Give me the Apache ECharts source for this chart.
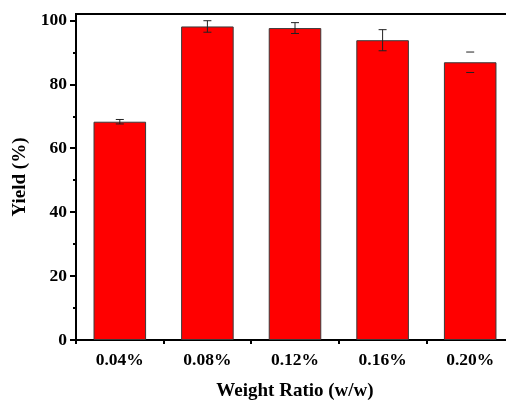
<!DOCTYPE html>
<html>
<head>
<meta charset="utf-8">
<script src="https://cdn.jsdelivr.net/npm/echarts@6/dist/echarts.min.js"></script>
<style>
  html, body { margin: 0; padding: 0; background: #fff; }
  #chart { width: 506px; height: 401px; }
</style>
</head>
<body>
<div id="chart"></div>
<script>
// weight ratio categories and measured yield (%)
var categories = ['0.04%', '0.08%', '0.12%', '0.16%', '0.20%']
var yieldValues = [68.3, 98.1, 97.6, 93.8, 86.9]
var yieldErrors = [0.7, 1.8, 1.7, 3.3, 3.2]
var stemVisible = [true, true, true, true, false]
var majorTicks = [0, 20, 40, 60, 80, 100]
var minorTicks = [10, 30, 50, 70, 90]

var fontFamily = '"Liberation Serif", "Times New Roman", serif'

var errorData = categories.map(function (c, i) {
  return [i, yieldValues[i] - yieldErrors[i], yieldValues[i] + yieldErrors[i], stemVisible[i] ? 1 : 0]
})

var chart = echarts.init(document.getElementById('chart'), null, { renderer: 'canvas' })

var option = {
  animation: false,
  backgroundColor: '#fff',
  grid: {
    left: 76,
    top: 14,
    right: -8,
    bottom: 61,
    outerBoundsMode: 'none',
    show: true,
    borderColor: '#000',
    borderWidth: 2,
    backgroundColor: 'transparent'
  },
  xAxis: [
    {
      type: 'category',
      data: categories,
      position: 'bottom',
      name: 'Weight Ratio (w/w)',
      nameLocation: 'middle',
      nameGap: 42,
      nameTextStyle: { fontFamily: fontFamily, fontWeight: 'bold', fontSize: 19, color: '#000' },
      axisLine: { lineStyle: { color: '#000', width: 2 } },
      axisTick: { alignWithLabel: true, length: 6, lineStyle: { color: '#000', width: 2 } },
      axisLabel: { fontFamily: fontFamily, fontWeight: 'bold', fontSize: 17.5, color: '#000', margin: 11 },
      splitLine: { show: false }
    },
    {
      // minor ticks between categories
      type: 'category',
      data: categories,
      position: 'bottom',
      axisLine: { show: true, lineStyle: { color: '#000', width: 2 } },
      axisTick: { show: true, alignWithLabel: false, interval: 0, length: 4, lineStyle: { color: '#000', width: 2 } },
      axisLabel: { show: false },
      splitLine: { show: false }
    }
  ],
  yAxis: [
    {
      type: 'value',
      min: 0,
      max: 102,
      position: 'left',
      name: 'Yield (%)',
      nameLocation: 'middle',
      nameGap: 44,
      nameTextStyle: { fontFamily: fontFamily, fontWeight: 'bold', fontSize: 19, color: '#000' },
      axisLine: { show: true, lineStyle: { color: '#000', width: 2 } },
      axisTick: { show: true, length: 6, customValues: majorTicks, lineStyle: { color: '#000', width: 2 } },
      axisLabel: { customValues: majorTicks, fontFamily: fontFamily, fontWeight: 'bold', fontSize: 17.5, color: '#000', margin: 9 },
      splitLine: { show: false }
    },
    {
      // minor ticks
      type: 'value',
      min: 0,
      max: 102,
      position: 'left',
      axisLine: { show: false },
      axisTick: { show: true, length: 3, customValues: minorTicks, lineStyle: { color: '#000', width: 2 } },
      axisLabel: { show: false },
      splitLine: { show: false }
    }
  ],
  series: [
    {
      type: 'bar',
      data: yieldValues,
      barWidth: '60%',
      itemStyle: { color: '#ff0000', borderColor: '#3a3a3a', borderWidth: 1 },
      z: 2
    },
    {
      type: 'custom',
      data: errorData,
      z: 3,
      renderItem: function (params, api) {
        var x = api.value(0)
        var lo = api.coord([x, api.value(1)])
        var hi = api.coord([x, api.value(2)])
        var half = 4
        var style = { stroke: '#222', lineWidth: 1 }
        var children = [
          { type: 'line', shape: { x1: hi[0] - half, y1: hi[1], x2: hi[0] + half, y2: hi[1] }, style: style },
          { type: 'line', shape: { x1: lo[0] - half, y1: lo[1], x2: lo[0] + half, y2: lo[1] }, style: style }
        ]
        if (api.value(3)) {
          children.push({ type: 'line', shape: { x1: hi[0], y1: hi[1], x2: lo[0], y2: lo[1] }, style: style })
        }
        return { type: 'group', children: children }
      }
    }
  ]
}

chart.setOption(option)
</script>
</body>
</html>
